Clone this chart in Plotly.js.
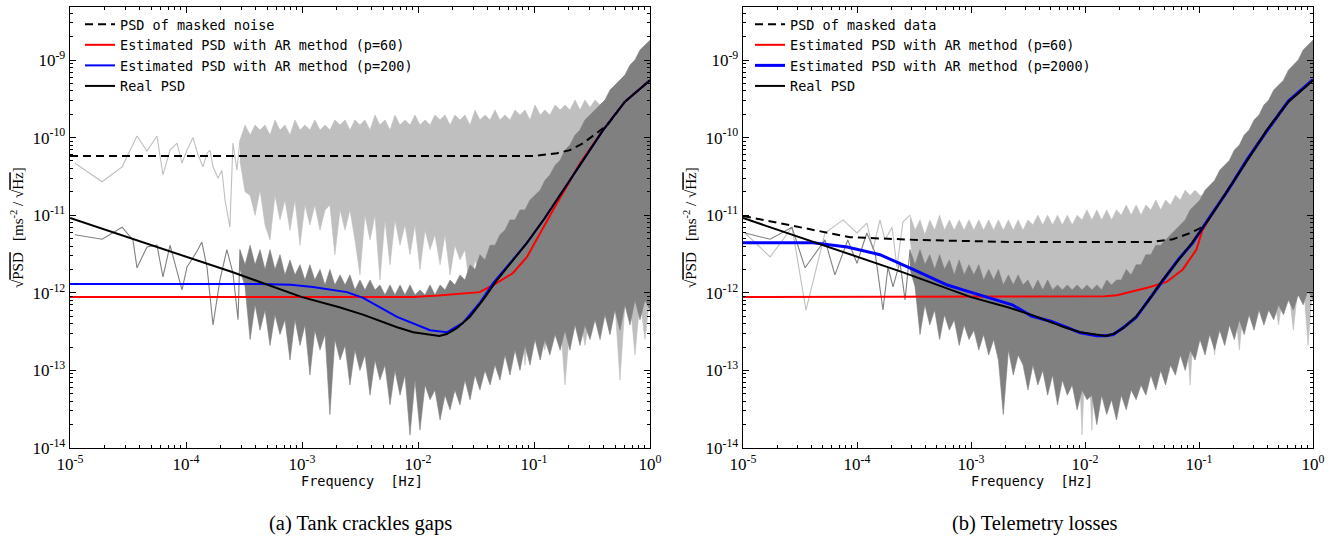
<!DOCTYPE html>
<html>
<head>
<meta charset="utf-8">
<script src="https://cdn.plot.ly/plotly-3.0.1.min.js"></script>
<style>html,body{margin:0;padding:0;background:#fff;}#chart{width:1338px;height:541px;}</style>
</head>
<body>
<div id="chart"></div>
<script>
// ---------- tick labels ----------
const xTickVals = [1e-5, 1e-4, 1e-3, 1e-2, 1e-1, 1];
const xTickText = ['10<sup>-5</sup>', '10<sup>-4</sup>', '10<sup>-3</sup>', '10<sup>-2</sup>', '10<sup>-1</sup>', '10<sup>0</sup>'];
const yTickVals = [1e-14, 1e-13, 1e-12, 1e-11, 1e-10, 1e-9];
const yTickText = ['10<sup>-14</sup>', '10<sup>-13</sup>', '10<sup>-12</sup>', '10<sup>-11</sup>', '10<sup>-10</sup>', '10<sup>-9</sup>'];

// ---------- frequency grid of the dense periodogram region ----------
const fGrid = [2.92e-4,3.23e-4,3.57e-4,3.94e-4,4.35e-4,4.80e-4,5.30e-4,5.85e-4,6.46e-4,7.13e-4,
7.88e-4,8.70e-4,9.61e-4,1.06e-3,1.17e-3,1.29e-3,1.43e-3,1.58e-3,1.74e-3,1.92e-3,
2.13e-3,2.35e-3,2.59e-3,2.86e-3,3.16e-3,3.49e-3,3.86e-3,4.26e-3,4.70e-3,5.19e-3,
5.74e-3,6.33e-3,7.00e-3,7.72e-3,8.53e-3,9.42e-3,1.04e-2,1.15e-2,1.27e-2,1.40e-2,
1.55e-2,1.71e-2,1.89e-2,2.08e-2,2.30e-2,2.54e-2,2.81e-2,3.10e-2,3.42e-2,3.78e-2,
4.18e-2,4.61e-2,5.09e-2,5.62e-2,6.21e-2,6.86e-2,7.57e-2,8.36e-2,9.24e-2,0.102,
0.113,0.124,0.137,0.152,0.168,0.185,0.204,0.226,0.249,0.275,
0.304,0.336,0.371,0.409,0.452,0.499,0.551,0.608,0.672,0.742,
0.820,0.905,1.0];

// ---------- (a) masked noise periodogram (light gray) ----------
const aLightSparseF = [1.1e-5,1.89e-5,2.81e-5,3.78e-5,4.61e-5,5.62e-5,6.33e-5,7.28e-5,8.36e-5,9.24e-5,1.02e-4,1.15e-4,1.27e-4,1.40e-4,1.52e-4,1.61e-4,1.71e-4,1.89e-4,2.04e-4,2.17e-4,2.39e-4,2.54e-4,2.75e-4,2.92e-4];
const aLightSparseV = [4.7e-11,2.7e-11,4.2e-11,1.05e-10,6.7e-11,1.05e-10,3.3e-11,6.9e-11,8.5e-11,4.7e-11,6.9e-11,1.0e-10,6.0e-11,4.2e-11,6.3e-11,6.9e-11,4.2e-11,3.0e-11,3.8e-11,1.57e-11,7.0e-12,8.5e-11,3.8e-11,9.3e-11];
const aLightUpper = [9.3e-11,1.45e-10,1.08e-10,1.45e-10,1.25e-10,1.45e-10,1.08e-10,1.69e-10,1.25e-10,1.45e-10,
1.08e-10,1.69e-10,1.25e-10,1.45e-10,1.25e-10,1.69e-10,1.25e-10,1.45e-10,1.25e-10,1.69e-10,
1.45e-10,1.69e-10,1.25e-10,1.69e-10,1.45e-10,1.69e-10,1.25e-10,1.95e-10,1.45e-10,1.69e-10,
1.25e-10,1.95e-10,1.45e-10,1.69e-10,1.45e-10,1.95e-10,1.45e-10,1.69e-10,1.45e-10,1.95e-10,
1.69e-10,1.95e-10,1.45e-10,1.95e-10,1.69e-10,1.95e-10,1.45e-10,2.27e-10,1.69e-10,1.95e-10,
1.69e-10,2.27e-10,1.69e-10,1.95e-10,1.69e-10,2.27e-10,1.95e-10,2.27e-10,1.69e-10,2.63e-10,
1.95e-10,2.27e-10,1.95e-10,2.63e-10,2.27e-10,2.63e-10,2.27e-10,3.05e-10,2.27e-10,3.05e-10,
2.45e-10,3.05e-10,2.63e-10,3.05e-10,3.5e-10,4.1e-10,4.8e-10,5.5e-10,6.4e-10,7.4e-10,
1.0e-9,1.16e-9,1.35e-9];
const aLightLower = [5.0e-11,2.0e-11,1.8e-11,1.0e-11,2.1e-11,7.5e-12,4.8e-12,1.8e-11,8.7e-12,1.57e-11,
6.4e-12,1.57e-11,4.1e-12,1.35e-11,7.5e-12,1.35e-11,6.4e-12,1.17e-11,1.35e-11,3.1e-12,
1.17e-11,6.4e-12,1.17e-11,4.8e-12,1.7e-12,1.0e-11,4.8e-12,1.0e-11,1.46e-12,8.7e-12,
2.3e-12,8.7e-12,4.1e-12,7.5e-12,3.1e-12,7.5e-12,2.0e-12,6.4e-12,3.6e-12,5.6e-12,
2.3e-12,5.6e-12,1.7e-12,4.1e-12,2.65e-12,3.6e-12,1.09e-12,2.65e-12,1.7e-12,8.1e-13,
1.09e-12,4.5e-13,1.09e-12,8.1e-13,9.4e-13,6.0e-13,8.1e-13,1.17e-13,6.0e-13,4.5e-13,
5.2e-13,1.83e-13,4.5e-13,3.85e-13,4.5e-13,6.5e-14,3.85e-13,4.5e-13,5.2e-13,2.1e-13,
5.2e-13,6.0e-13,4.5e-13,6.0e-13,2.9e-13,7.0e-13,7.5e-14,7.0e-13,8.1e-13,1.58e-13,
8.1e-13,2.5e-13,9.4e-13];

// ---------- (a) real noise periodogram (dark gray) ----------
const aDarkSparseF = [1.10e-5,1.89e-5,2.81e-5,3.49e-5,3.78e-5,4.61e-5,5.62e-5,6.33e-5,7.28e-5,9.24e-5,1.02e-4,1.24e-4,1.37e-4,1.52e-4,1.71e-4,1.96e-4,2.25e-4,2.54e-4,2.81e-4,2.92e-4];
const aDarkSparseV = [5.6e-12,4.9e-12,7.0e-12,4.8e-12,2.1e-12,3.9e-12,4.1e-12,1.6e-12,4.1e-12,1.09e-12,2.15e-12,3.4e-12,4.5e-12,2.1e-12,3.85e-13,1.46e-12,3.6e-12,1.8e-12,4.5e-13,3.6e-12];
const aDarkUpper = [3.6e-12,2.3e-12,4.1e-12,2.3e-12,3.6e-12,2.0e-12,3.6e-12,2.0e-12,3.1e-12,1.7e-12,
2.65e-12,1.7e-12,2.3e-12,1.46e-12,2.3e-12,1.46e-12,2.0e-12,1.26e-12,2.0e-12,1.26e-12,
1.7e-12,1.26e-12,1.7e-12,1.09e-12,1.46e-12,1.09e-12,1.46e-12,1.09e-12,1.26e-12,9.4e-13,
1.26e-12,9.4e-13,1.26e-12,9.4e-13,1.26e-12,9.4e-13,1.09e-12,9.4e-13,1.26e-12,9.4e-13,
1.26e-12,1.09e-12,1.46e-12,1.26e-12,1.7e-12,1.46e-12,2.3e-12,2.0e-12,3.1e-12,2.65e-12,
4.1e-12,4.1e-12,5.6e-12,6.4e-12,8.7e-12,8.7e-12,1.17e-11,1.17e-11,1.57e-11,1.8e-11,
2.1e-11,2.8e-11,3.3e-11,4.4e-11,5.1e-11,6.9e-11,8.0e-11,1.08e-10,1.25e-10,1.69e-10,
1.95e-10,2.27e-10,2.63e-10,3.05e-10,4.1e-10,4.8e-10,5.5e-10,6.4e-10,8.6e-10,1.0e-9,
1.35e-9,1.56e-9,1.8e-9];
const aDarkLower = [2.0e-12,1.2e-12,2.5e-13,7.0e-13,3.3e-13,6.0e-13,2.1e-13,5.2e-13,2.9e-13,4.5e-13,
1.36e-13,4.5e-13,2.1e-13,3.85e-13,8.7e-14,3.3e-13,1.83e-13,2.9e-13,2.7e-14,2.5e-13,
1.36e-13,2.1e-13,6.5e-14,1.83e-13,1.0e-13,1.58e-13,4.8e-14,1.36e-13,7.5e-14,1.17e-13,
3.6e-14,1.0e-13,4.8e-14,8.7e-14,1.47e-14,7.5e-14,1.7e-14,6.5e-14,4.2e-14,5.6e-14,
2.3e-14,4.8e-14,3.1e-14,5.6e-14,3.6e-14,7.5e-14,4.2e-14,8.7e-14,5.6e-14,1.0e-13,
6.5e-14,1.17e-13,7.5e-14,1.58e-13,8.7e-14,1.83e-13,1.0e-13,2.1e-13,1.17e-13,2.5e-13,
1.36e-13,2.5e-13,1.58e-13,2.9e-13,1.83e-13,3.3e-13,1.83e-13,3.85e-13,2.1e-13,3.85e-13,
2.5e-13,4.5e-13,2.5e-13,5.2e-13,2.9e-13,6.0e-13,3.3e-13,7.0e-13,3.85e-13,8.1e-13,
4.5e-13,8.1e-13,6.0e-13];

// ---------- (b) masked data periodogram (light gray) ----------
const bLightSparseF = [1.04e-5,1.73e-5,2.69e-5,3.57e-5,5.24e-5,7.54e-5,1.0e-4,1.22e-4,1.38e-4,1.59e-4,1.76e-4,2.03e-4,2.24e-4,2.53e-4,2.92e-4];
const bLightSparseV = [5.9e-12,2.9e-12,7.0e-12,6.0e-13,5.9e-12,8.7e-12,5.9e-12,7.9e-12,3.6e-12,8.7e-12,4.8e-12,7.0e-12,2.15e-12,8.2e-12,1.0e-11];
const bLightUpper = [1.0e-11,6.4e-12,8.7e-12,5.6e-12,8.7e-12,6.4e-12,1.0e-11,6.4e-12,8.7e-12,6.4e-12,
8.7e-12,6.4e-12,8.7e-12,6.4e-12,8.7e-12,6.4e-12,8.7e-12,6.4e-12,8.7e-12,6.4e-12,
8.7e-12,6.4e-12,8.7e-12,6.4e-12,8.7e-12,7.5e-12,1.0e-11,7.5e-12,1.0e-11,7.5e-12,
1.0e-11,7.5e-12,1.0e-11,7.5e-12,1.0e-11,8.7e-12,1.17e-11,8.7e-12,1.17e-11,8.7e-12,
1.17e-11,8.7e-12,1.17e-11,1.0e-11,1.35e-11,1.0e-11,1.35e-11,1.0e-11,1.35e-11,1.17e-11,
1.57e-11,1.17e-11,1.57e-11,1.35e-11,1.8e-11,1.57e-11,2.1e-11,1.8e-11,2.1e-11,1.8e-11,
1.8e-11,2.1e-11,2.4e-11,3.3e-11,3.8e-11,4.4e-11,6.0e-11,6.9e-11,9.3e-11,1.08e-10,
1.45e-10,1.69e-10,2.27e-10,2.63e-10,3.5e-10,4.1e-10,4.8e-10,6.4e-10,7.4e-10,8.6e-10,
1.16e-9,1.35e-9,1.56e-9];
const bLightLower = [5.0e-12,1.5e-12,2.3e-12,1.09e-12,2.0e-12,6.0e-13,1.7e-12,9.4e-13,1.46e-12,7.0e-13,
1.26e-12,8.1e-13,1.09e-12,4.5e-13,9.4e-13,7.0e-13,8.1e-13,5.2e-13,8.1e-13,6.0e-13,
8.1e-13,5.2e-13,7.0e-13,4.5e-13,7.0e-13,5.2e-13,7.0e-13,4.5e-13,6.0e-13,4.5e-13,
6.0e-13,3.85e-13,5.2e-13,3.85e-13,5.2e-13,1.47e-14,5.2e-13,1.7e-14,5.2e-13,4.5e-13,
6.0e-13,4.5e-13,6.0e-13,5.2e-13,8.1e-13,6.0e-13,8.1e-13,7.0e-13,9.4e-13,8.1e-13,
1.09e-12,9.4e-13,1.09e-12,9.4e-13,8.1e-13,7.0e-13,6.0e-13,6.5e-14,7.0e-13,6.0e-13,
7.0e-13,6.0e-13,1.58e-13,7.0e-13,8.1e-13,7.0e-13,8.1e-13,1.83e-13,8.1e-13,9.4e-13,
8.1e-13,1.09e-12,9.4e-13,1.09e-12,9.4e-13,3.85e-13,1.09e-12,1.26e-12,3.3e-13,1.26e-12,
1.46e-12,2.1e-13,1.46e-12];

// ---------- (b) real data periodogram (dark gray) ----------
const bDarkSparseF = [1.04e-5,1.73e-5,2.69e-5,3.5e-5,5.24e-5,6.4e-5,8.3e-5,1.0e-4,1.22e-4,1.44e-4,1.69e-4,1.87e-4,2.07e-4,2.38e-4,2.64e-4,2.92e-4];
const bDarkSparseV = [5.9e-12,4.9e-12,7.0e-12,2.1e-12,4.8e-12,1.7e-12,4.8e-12,2.4e-12,5.9e-12,3.3e-12,6.0e-13,2.15e-12,1.19e-12,2.5e-12,8.1e-13,3.6e-12];
const bDarkUpper = [3.6e-12,2.3e-12,3.6e-12,2.3e-12,3.1e-12,2.0e-12,3.1e-12,2.0e-12,2.65e-12,1.7e-12,
2.65e-12,1.7e-12,2.3e-12,1.7e-12,2.3e-12,1.46e-12,2.0e-12,1.46e-12,2.0e-12,1.26e-12,
1.7e-12,1.26e-12,1.7e-12,1.26e-12,1.46e-12,1.09e-12,1.46e-12,1.09e-12,1.46e-12,1.09e-12,
1.26e-12,1.09e-12,1.26e-12,1.09e-12,1.26e-12,1.09e-12,1.26e-12,1.09e-12,1.26e-12,1.09e-12,
1.46e-12,1.26e-12,1.46e-12,1.46e-12,2.0e-12,1.7e-12,2.3e-12,2.3e-12,3.1e-12,3.1e-12,
4.1e-12,4.1e-12,4.8e-12,5.6e-12,6.4e-12,7.5e-12,8.7e-12,1.17e-11,1.35e-11,1.57e-11,
2.1e-11,2.4e-11,2.8e-11,3.8e-11,4.4e-11,5.1e-11,6.9e-11,8.0e-11,1.08e-10,1.25e-10,
1.69e-10,1.95e-10,2.63e-10,3.05e-10,4.1e-10,4.8e-10,5.5e-10,7.4e-10,8.6e-10,1.0e-9,
1.35e-9,1.56e-9,1.8e-9];
const bDarkLower = [2.0e-12,1.2e-12,2.9e-13,7.0e-13,3.85e-13,6.0e-13,2.5e-13,5.2e-13,3.3e-13,4.5e-13,
2.1e-13,3.85e-13,2.5e-13,3.3e-13,1.83e-13,2.9e-13,1.58e-13,2.5e-13,1.36e-13,2.7e-14,
1.83e-13,8.7e-14,1.58e-13,1.17e-13,5.6e-14,1.17e-13,6.5e-14,1.0e-13,4.8e-14,8.7e-14,
3.6e-14,7.5e-14,4.8e-14,6.5e-14,3.1e-14,5.6e-14,4.2e-14,4.8e-14,2.0e-14,4.8e-14,
2.7e-14,4.2e-14,2.3e-14,4.8e-14,3.1e-14,5.6e-14,4.2e-14,6.5e-14,4.8e-14,8.7e-14,
5.6e-14,1.0e-13,6.5e-14,1.17e-13,8.7e-14,1.58e-13,1.0e-13,1.83e-13,1.36e-13,2.5e-13,
1.58e-13,2.9e-13,1.83e-13,3.3e-13,2.1e-13,3.85e-13,2.5e-13,4.5e-13,2.9e-13,5.2e-13,
3.3e-13,6.0e-13,3.85e-13,6.0e-13,4.5e-13,7.0e-13,5.2e-13,8.1e-13,6.0e-13,9.4e-13,
7.0e-13,1.09e-12,8.1e-13];

// ---------- smooth spectra ----------
const realF = [1e-5,3.5e-5,1e-4,2.5e-4,1e-3,2.1e-3,3.4e-3,6.6e-3,9.1e-3,1.27e-2,1.53e-2,1.77e-2,2.16e-2,2.8e-2,3.64e-2,4.8e-2,6.6e-2,8.7e-2,0.124,0.178,0.264,0.394,0.608,1.0];
const realV = [9.2e-12,4.9e-12,2.9e-12,1.85e-12,8.8e-13,6.5e-13,5.2e-13,3.6e-13,3.1e-13,2.86e-13,2.77e-13,2.94e-13,3.5e-13,4.9e-13,8.1e-13,1.46e-12,2.65e-12,4.4e-12,9.2e-12,2.1e-11,5.1e-11,1.25e-10,2.9e-10,5.5e-10];

const aMaskedF = [1e-5,0.1,0.158,0.204,0.266,0.35,0.43,0.608,1.0];
const aMaskedV = [5.8e-11,5.8e-11,6.3e-11,6.9e-11,8.5e-11,1.15e-10,1.45e-10,2.9e-10,5.5e-10];

const aAR60F = [1e-5,9.1e-3,1.5e-2,2.44e-2,3.4e-2,4.45e-2,6.6e-2,8.7e-2,0.113,0.146,0.19,0.25,0.394,0.608,1.0];
const aAR60V = [8.8e-13,8.8e-13,9.2e-13,9.7e-13,1.02e-12,1.26e-12,1.8e-12,2.9e-12,5.9e-12,1.17e-11,2.3e-11,4.7e-11,1.25e-10,2.9e-10,5.5e-10];

const aAR200F = [1e-5,4.3e-4,8e-4,1.24e-3,2.44e-3,3.36e-3,6.6e-3,1.27e-2,1.77e-2,2.44e-2,3.4e-2,4.45e-2,6.6e-2,8.7e-2,0.124,0.178,0.264,0.394,0.608,1.0];
const aAR200V = [1.3e-12,1.3e-12,1.27e-12,1.19e-12,1.02e-12,8.6e-13,4.9e-13,3.3e-13,3.1e-13,4.1e-13,7.4e-13,1.34e-12,2.7e-12,4.4e-12,9.2e-12,2.1e-11,5.1e-11,1.25e-10,2.9e-10,5.5e-10];

const bMaskedF = [1e-5,5.0e-5,8.7e-5,2.4e-4,3.4e-4,2.5e-3,3.72e-2,5.9e-2,8.4e-2,0.107,0.124,0.178,0.264,0.394,0.608,1.0];
const bMaskedV = [9.8e-12,6.1e-12,5.2e-12,4.9e-12,4.8e-12,4.5e-12,4.5e-12,4.9e-12,5.9e-12,7.0e-12,9.2e-12,2.1e-11,5.1e-11,1.25e-10,2.9e-10,5.5e-10];

const bAR60F = [1e-5,1.5e-2,1.91e-2,3.72e-2,5.2e-2,7.2e-2,9.5e-2,0.107,0.124,0.178,0.264,0.394,0.608,1.0];
const bAR60V = [8.8e-13,9.0e-13,9.3e-13,1.19e-12,1.38e-12,2.0e-12,3.6e-12,6.4e-12,9.2e-12,2.1e-11,5.1e-11,1.25e-10,2.9e-10,5.5e-10];

const bAR2000F = [1e-5,4.1e-5,8.2e-5,1.59e-4,3.1e-4,6.2e-4,8.5e-4,1.69e-3,2.3e-3,3.4e-3,5e-3,6.6e-3,9.1e-3,1.27e-2,1.53e-2,1.77e-2,2.16e-2,2.8e-2,3.64e-2,4.8e-2,6.6e-2,8.7e-2,0.124,0.178,0.264,0.394,0.608,1.0];
const bAR2000V = [4.4e-12,4.4e-12,3.9e-12,3.1e-12,2.0e-12,1.26e-12,1.09e-12,8.1e-13,7.0e-13,5.0e-13,4.3e-13,3.7e-13,3.05e-13,2.8e-13,2.8e-13,2.9e-13,3.55e-13,4.8e-13,8.3e-13,1.43e-12,2.7e-12,4.3e-12,9.4e-12,2.05e-11,5.2e-11,1.22e-10,2.95e-10,5.6e-10];

// ---------- build traces ----------
const LIGHT = '#bfbfbf', DARK = '#808080';
function band(up, lo, color, xa, ya) {
  return {x: fGrid.concat(fGrid.slice().reverse()), y: up.concat(lo.slice().reverse()),
    xaxis: xa, yaxis: ya, type: 'scatter', mode: 'lines', fill: 'toself', fillcolor: color,
    line: {color: color, width: 0.6}, showlegend: false, hoverinfo: 'skip'};
}
function thin(f, v, color, xa, ya) {
  return {x: f, y: v, xaxis: xa, yaxis: ya, type: 'scatter', mode: 'lines',
    line: {color: color, width: 1.1}, showlegend: false, hoverinfo: 'skip'};
}
function curve(f, v, name, color, dash, width, xa, ya, leg) {
  return {x: f, y: v, name: name, xaxis: xa, yaxis: ya, type: 'scatter', mode: 'lines',
    line: {color: color, width: width, dash: dash}, legend: leg};
}

const traces = [
  band(aLightUpper, aLightLower, LIGHT, 'x', 'y'),
  thin(aLightSparseF, aLightSparseV, LIGHT, 'x', 'y'),
  band(aDarkUpper, aDarkLower, DARK, 'x', 'y'),
  thin(aDarkSparseF, aDarkSparseV, DARK, 'x', 'y'),
  curve(aMaskedF, aMaskedV, 'PSD of masked noise', '#000', '8px,5px', 2, 'x', 'y', 'legend'),
  curve(aAR60F, aAR60V, 'Estimated PSD with AR method (p=60)', '#ff0000', 'solid', 2, 'x', 'y', 'legend'),
  curve(aAR200F, aAR200V, 'Estimated PSD with AR method (p=200)', '#0000ff', 'solid', 2, 'x', 'y', 'legend'),
  curve(realF, realV, 'Real PSD', '#000', 'solid', 2, 'x', 'y', 'legend'),

  band(bLightUpper, bLightLower, LIGHT, 'x2', 'y2'),
  thin(bLightSparseF, bLightSparseV, LIGHT, 'x2', 'y2'),
  band(bDarkUpper, bDarkLower, DARK, 'x2', 'y2'),
  thin(bDarkSparseF, bDarkSparseV, DARK, 'x2', 'y2'),
  curve(bMaskedF, bMaskedV, 'PSD of masked data', '#000', '8px,5px', 2, 'x2', 'y2', 'legend2'),
  curve(bAR60F, bAR60V, 'Estimated PSD with AR method (p=60)', '#ff0000', 'solid', 2, 'x2', 'y2', 'legend2'),
  curve(bAR2000F, bAR2000V, 'Estimated PSD with AR method (p=2000)', '#0000ff', 'solid', 3, 'x2', 'y2', 'legend2'),
  curve(realF, realV, 'Real PSD', '#000', 'solid', 2, 'x2', 'y2', 'legend2')
];

// minor tick positions (2..9 in every decade)
const minorX = [], minorY = [];
for (let e = -5; e < 0; e++) for (let d = 2; d <= 9; d++) minorX.push(d * Math.pow(10, e));
for (let e = -14; e < -8; e++) for (let d = 2; d <= 9; d++) minorY.push(d * Math.pow(10, e));

const W = 1338, H = 541;
const yDom = [1 - 448 / H, 1 - 7 / H];
const tickFont = {family: 'Liberation Serif, DejaVu Serif, serif', size: 17, color: '#000'};
function xAxis(domain, anchor) {
  return {type: 'log', domain: domain, anchor: anchor, range: [-5, 0], showline: true, linecolor: '#000', linewidth: 1.3,
    mirror: 'allticks', ticks: 'inside', ticklen: 6, tickwidth: 1, tickcolor: '#000', showgrid: false, zeroline: false,
    tickmode: 'array', tickvals: xTickVals, ticktext: xTickText, tickfont: tickFont,
    minor: {ticks: 'inside', ticklen: 3, tickwidth: 1, tickcolor: '#000', tickmode: 'array', tickvals: minorX, showgrid: false}};
}
function yAxis(anchor) {
  return {type: 'log', domain: yDom, anchor: anchor, range: [-14, -8.317], showline: true, linecolor: '#000', linewidth: 1.3,
    mirror: 'allticks', ticks: 'inside', ticklen: 6, tickwidth: 1, tickcolor: '#000', showgrid: false, zeroline: false,
    tickmode: 'array', tickvals: yTickVals, ticktext: yTickText, tickfont: tickFont,
    minor: {ticks: 'inside', ticklen: 3, tickwidth: 1, tickcolor: '#000', tickmode: 'array', tickvals: minorY, showgrid: false}};
}
const legFont = {family: 'DejaVu Sans Mono, monospace', size: 13.5, color: '#000'};
const yTitle = '√<span style="text-decoration:overline">PSD</span>   [ms<sup>-2</sup> / √<span style="text-decoration:overline">Hz</span>]';
const serif = {family: 'Liberation Serif, DejaVu Serif, serif', size: 15, color: '#000'};
const capFont = {family: 'Liberation Serif, DejaVu Serif, serif', size: 20.5, color: '#000'};
const monoFont = {family: 'DejaVu Sans Mono, monospace', size: 13.5, color: '#000'};
function ann(text, x, y, font, angle) {
  return {text: text, x: x / W, y: 1 - y / H, xref: 'paper', yref: 'paper', xanchor: 'center', yanchor: 'middle',
    showarrow: false, font: font, textangle: angle || 0};
}
const layout = {
  width: W, height: H, margin: {l: 0, r: 0, t: 0, b: 0},
  paper_bgcolor: '#fff', plot_bgcolor: '#fff', showlegend: true,
  xaxis: xAxis([70 / W, 650 / W], 'y'),
  yaxis: yAxis('x'),
  xaxis2: xAxis([743 / W, 1313 / W], 'y2'),
  yaxis2: yAxis('x2'),
  legend: {x: 80 / W, y: 1 - 9 / H, xanchor: 'left', yanchor: 'top', bgcolor: 'rgba(0,0,0,0)', font: legFont, tracegroupgap: 0, itemwidth: 30},
  legend2: {x: 750 / W, y: 1 - 9 / H, xanchor: 'left', yanchor: 'top', bgcolor: 'rgba(0,0,0,0)', font: legFont, tracegroupgap: 0, itemwidth: 30},
  annotations: [
    ann('Frequency  [Hz]', 362, 481, monoFont),
    ann('Frequency  [Hz]', 1032, 481, monoFont),
    ann(yTitle, 17, 228, serif, -90),
    ann(yTitle, 690, 228, serif, -90),
    ann('(a) Tank crackles gaps', 360, 523, capFont),
    ann('(b) Telemetry losses', 1035, 523, capFont)
  ]
};
Plotly.newPlot('chart', traces, layout, {displayModeBar: false, staticPlot: true});
</script>
</body>
</html>
